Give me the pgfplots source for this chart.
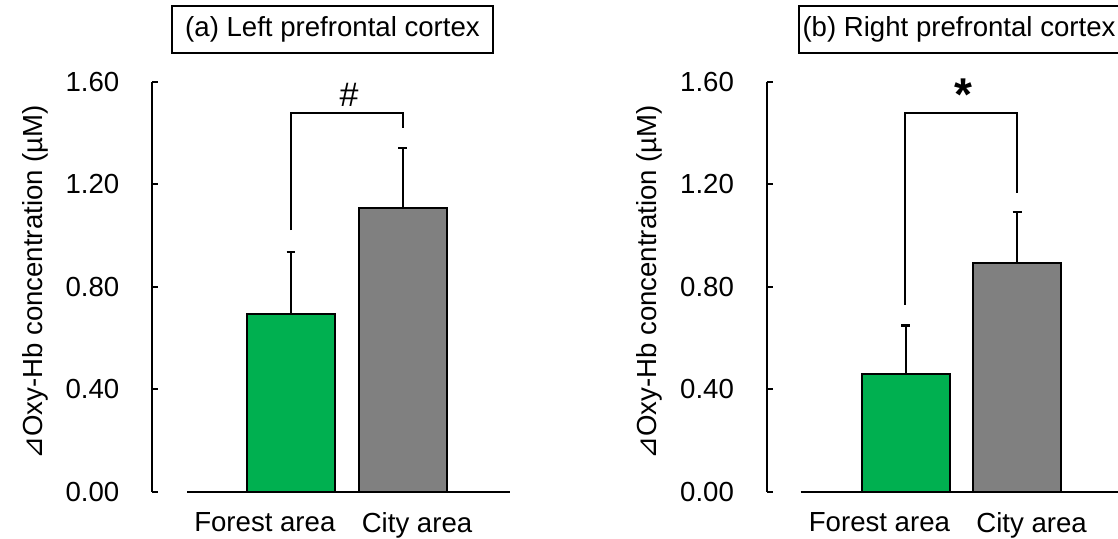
\documentclass[border=0pt]{standalone}
\usepackage{fontspec}
\setmainfont{Liberation Sans}
\newfontfamily\dejavu{DejaVu Sans}
\usepackage{pgfplots}
\usepackage{pgfplotstable}
\pgfplotsset{compat=1.18}
\definecolor{exgreen}{RGB}{0,176,80}
\definecolor{exgray}{RGB}{128,128,128}

% panel (a): left prefrontal cortex
\pgfplotstableread{
x y err
1 0.695 0.242
}\Lforest
\pgfplotstableread{
x y err
2 1.108 0.234
}\Lcity
% panel (b): right prefrontal cortex
\pgfplotstableread{
x y err
1 0.461 0.188
}\Rforest
\pgfplotstableread{
x y err
2 0.895 0.198
}\Rcity

\pgfplotsset{
  panel/.style={
    scale only axis, width=179pt, height=205pt,
    xmin=-0.247, xmax=2.964, ymin=0, ymax=1.6,
    axis y line=left, axis x line=bottom,
    axis line style={-, line width=1pt, black},
    x axis line style={draw=none},
    ytick={0,0.4,0.8,1.2,1.6},
    tick align=inside, major tick length=3pt,
    every tick/.style={line width=1pt, black},
    xtick={0.765,2.13},
    xticklabels={Forest area, City area},
    x tick style={draw=none},
    font=\fontsize{13.8}{16}\selectfont,
    tick label style={font=\fontsize{13.8}{16}\selectfont},
    x tick label style={yshift=-6.5pt},
    y tick label style={xshift=-12.8pt, /pgf/number format/.cd, fixed, fixed zerofill, precision=2, assume math mode=true},
    ylabel={{\dejavu ⊿}Oxy-Hb concentration (µM)},
    ylabel style={at={(axis description cs:-0.327,0.511)}, anchor=center, font=\fontsize{13.8}{16}\selectfont},
    clip=false,
  },
  bars/.style={ybar, bar width=44pt, bar shift=0pt, draw=black, line width=1pt,
    error bars/y dir=plus, error bars/y explicit,
    error bars/error bar style={line width=1pt, black},
    error bars/error mark options={rotate=90, mark size=2.2pt, line width=1.3pt, black}},
}

\begin{document}
\begin{tikzpicture}
\begin{axis}[panel, at={(76pt,23.5pt)}, anchor=south west]
  \addplot[bars, fill=exgreen] table[x=x, y=y, y error=err] {\Lforest};
  \addplot[bars, fill=exgray] table[x=x, y=y, y error=err] {\Lcity};
  \draw[line width=1pt, black] (axis cs:0.067,0) -- (axis cs:2.964,0);
  \draw[line width=1pt, black] (axis cs:1,1.022) -- (axis cs:1,1.48) -- (axis cs:2,1.48) -- (axis cs:2,1.42);
  \node[anchor=north, inner sep=0pt, font=\fontsize{17}{20}\selectfont] at (axis cs:1.52,1.598) {\#};
\end{axis}
\begin{axis}[panel, at={(383.3pt,23.5pt)}, anchor=south west]
  \addplot[bars, fill=exgreen] table[x=x, y=y, y error=err] {\Rforest};
  \addplot[bars, fill=exgray] table[x=x, y=y, y error=err] {\Rcity};
  \draw[line width=1pt, black] (axis cs:0.058,0) -- (axis cs:2.964,0);
  \draw[line width=1pt, black] (axis cs:0.99,0.73) -- (axis cs:0.99,1.48) -- (axis cs:2,1.48) -- (axis cs:2,1.167);
  \node[anchor=north, inner sep=0pt, font=\fontsize{23}{27}\selectfont\bfseries] at (axis cs:1.52,1.614) {*};
\end{axis}
\node[draw, line width=1pt, minimum width=160.5pt, minimum height=23.5pt, inner sep=0pt, font=\fontsize{13.8}{16}\selectfont] at (166.25pt,254.75pt) {(a) Left prefrontal cortex};
\node[draw, line width=1pt, minimum width=160.5pt, minimum height=23.5pt, inner sep=0pt, font=\fontsize{13.8}{16}\selectfont] at (479.5pt,254.75pt) {(b) Right prefrontal cortex};
\pgfresetboundingbox
\path[use as bounding box] (0,0) rectangle (559pt,269.5pt);
\end{tikzpicture}
\end{document}
